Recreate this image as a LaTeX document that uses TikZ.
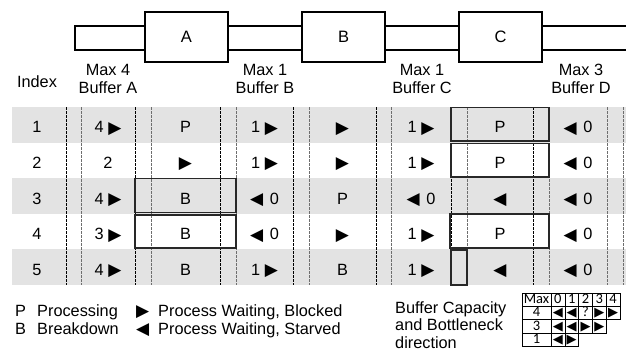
\documentclass[tikz,border=0pt]{standalone}
\usepackage{fontspec}
\setmainfont{Liberation Sans}
\newfontfamily\calfont{Carlito}
\newfontfamily\trifont{DejaVu Sans}
\definecolor{rowgray}{RGB}{227,227,227}
\definecolor{boxgray}{RGB}{40,40,40}
\definecolor{sepgray}{RGB}{110,110,110}
\newcommand\Rt{\raisebox{-0.5pt}{\trifont\fontsize{17}{13}\selectfont ▶}}
\newcommand\Lt{\raisebox{-0.5pt}{\trifont\fontsize{17}{13}\selectfont ◀}}
\newcommand\mRt{{\trifont\fontsize{13}{11}\selectfont ▶}}
\newcommand\mLt{{\trifont\fontsize{13}{11}\selectfont ◀}}
\newcommand\rowcells[9]{%
  \foreach \cx/\tx [count=\k] in {37/{#2},108/{#3},185.5/{#4},264.5/{#5},342.5/{#6},421/{#7},500/{#8},578/{#9}}{
    \node[cell] (r#1c\k) at (\cx,{107+35.6*(#1-0.5)+8}) {\tx};
  }%
}
\begin{document}
\begin{tikzpicture}[x=1pt,y=-1pt,
  proc/.style={draw=black,line width=1.1pt,fill=white,minimum width=83pt,minimum height=50pt,inner sep=0pt,font=\fontsize{16.5}{19}\selectfont},
  bar/.style={draw=black,line width=1.1pt,fill=white,minimum height=24pt,inner sep=0pt},
  lbl/.style={align=center,font=\fontsize{16.3}{18.5}\selectfont,inner sep=0pt},
  cell/.style={font=\fontsize{16.3}{18}\selectfont,inner sep=0pt,anchor=base},
  leg/.style={font=\fontsize{16.3}{17.5}\selectfont,inner sep=0pt,anchor=base west},
  sep/.style={line width=0.8pt,dash pattern=on 2.5pt off 1.5pt},
  hl/.style={draw=boxgray,line width=1.9pt},
  mini/.style={draw=black,line width=0.6pt,minimum height=13.3pt,inner sep=0pt,text height=9.5pt,text depth=1.5pt,font=\calfont\fontsize{14.5}{14}\selectfont},
  mtri/.style={mini,text height=9pt,text depth=1pt,font=\fontsize{11}{11}\selectfont},
]
\useasboundingbox (0,0) rectangle (626,351);
% ---- top line of processes and buffers
\node[bar,minimum width=70pt] (barA) at (110,38) {};
\node[bar,minimum width=74pt] (barB) at (265,38) {};
\node[bar,minimum width=74pt] (barC) at (422,38) {};
\node[proc] (A) at (186.5,37) {A};
\node[proc] (B) at (343.5,37) {B};
\node[proc] (C) at (500.5,37) {C};
\coordinate (dTop) at (626,26);
\coordinate (dBot) at (626,50);
\draw[line width=1.1pt] (C.east |- dTop) -- (dTop) (C.east |- dBot) -- (dBot);
% ---- labels
\node[lbl] (idx) at (37,82) {Index};
\node[lbl] (lA) at (108,79) {Max 4\\Buffer A};
\node[lbl] (lB) at (265,79) {Max 1\\Buffer B};
\node[lbl] (lC) at (422,79) {Max 1\\Buffer C};
\node[lbl] (lD) at (581,79) {Max 3\\Buffer D};
% ---- rows
\foreach \r in {1,3,5}{
  \fill[rowgray] (12,{107+35.6*(\r-1)}) rectangle (626,{107+35.6*\r});
}
\foreach \xx/\cc in {66/black,81/sepgray,135/black,151/sepgray,220/black,236/sepgray,293/black,309/sepgray,376/black,391/sepgray,451/black,467/sepgray,533/black,549/sepgray,607/sepgray,623/sepgray}{
  \draw[sep,draw=\cc] (\xx,107) -- (\xx,285);
}
% ---- highlighted boxes
\draw[hl] (135,178.5) rectangle (236,212.5);
\draw[hl] (135,215) rectangle (236,248);
\draw[hl] (451,107.5) rectangle (549,141);
\draw[hl] (451,143.5) rectangle (549,177);
\draw[hl] (450,214) rectangle (549,248);
\draw[hl] (451,250) rectangle (467,285);
% ---- cells
\rowcells{1}{1}{4 \Rt}{P}{1 \Rt}{\Rt}{1 \Rt}{P}{\Lt\hspace{2pt} 0}
\rowcells{2}{2}{2}{\Rt}{1 \Rt}{\Rt}{1 \Rt}{P}{\Lt\hspace{2pt} 0}
\rowcells{3}{3}{4 \Rt}{B}{\Lt\hspace{2pt} 0}{P}{\Lt\hspace{2pt} 0}{\Lt}{\Lt\hspace{2pt} 0}
\rowcells{4}{4}{3 \Rt}{B}{\Lt\hspace{2pt} 0}{\Rt}{1 \Rt}{P}{\Lt\hspace{2pt} 0}
\rowcells{5}{5}{4 \Rt}{B}{1 \Rt}{B}{1 \Rt}{\Lt}{\Lt\hspace{2pt} 0}
% ---- legend
\node[leg] (kP) at (15,316) {P};
\node[leg] (kPt) at (37,316) {Processing};
\node[leg] (kB) at (15,334) {B};
\node[leg] (kBt) at (37,334) {Breakdown};
\node[leg] (kR) at (136,316) {\Rt};
\node[leg] (kRt) at (158,316) {Process Waiting, Blocked};
\node[leg] (kL) at (136,334) {\Lt};
\node[leg] (kLt) at (158,334) {Process Waiting, Starved};
\node[leg,align=left,anchor=north west] (cap) at (395,301) {Buffer Capacity\\and Bottleneck\\direction};
% ---- mini table
\node[mini,minimum width=29pt] (m00) at (536.5,299.65) {Max};
\foreach \t [count=\k] in {0,1,2,3,4}{
  \node[mini,minimum width=13.8pt] (m0\k) at ({551+13.8*(\k-0.5)},299.65) {\t};
}
\node[mini,minimum width=29pt] (m10) at (536.5,312.95) {4};
\foreach \t [count=\k] in {\mLt,\mLt,{\calfont\fontsize{14.5}{14}\selectfont ?},\mRt,\mRt}{
  \node[mtri,minimum width=13.8pt] (m1\k) at ({551+13.8*(\k-0.5)},312.95) {\t};
}
\node[mini,minimum width=29pt] (m20) at (536.5,326.25) {3};
\foreach \t [count=\k] in {\mLt,\mLt,\mRt,\mRt}{
  \node[mtri,minimum width=13.8pt] (m2\k) at ({551+13.8*(\k-0.5)},326.25) {\t};
}
\node[mini,minimum width=29pt] (m30) at (536.5,339.55) {1};
\foreach \t [count=\k] in {\mLt,\mRt}{
  \node[mtri,minimum width=13.8pt] (m3\k) at ({551+13.8*(\k-0.5)},339.55) {\t};
}
\end{tikzpicture}
\end{document}
